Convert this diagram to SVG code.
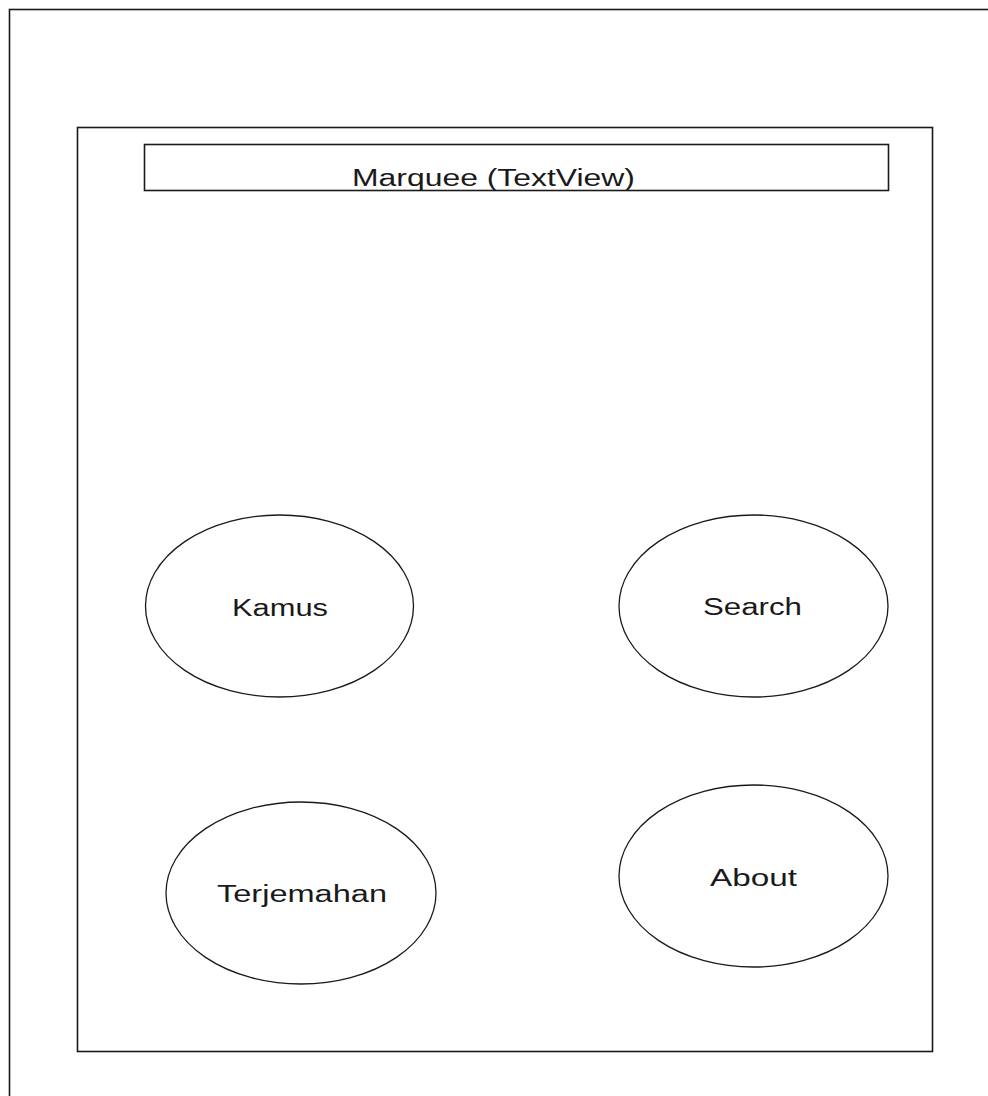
<svg xmlns="http://www.w3.org/2000/svg" width="988" height="1096" viewBox="0 0 988 1096">
<style>
.frame{fill:#fff;stroke:#1a1a1a;stroke-width:1.6}
.box{fill:none;stroke:#1a1a1a;stroke-width:1.6}
.oval{fill:#fff;stroke:#1a1a1a;stroke-width:1.3}
.lbl{font-family:"Liberation Sans",Arial,sans-serif;font-size:23px;fill:#1a1a1a}
</style>
<rect width="988" height="1096" fill="#fff"/>
<g id="screen">
<rect class="frame" x="9.5" y="9.5" width="1000" height="1100"/>
</g>
<g id="layout">
<rect class="box" x="77.5" y="127.5" width="855" height="924"/>
</g>
<g id="marquee">
<rect class="box" x="144.5" y="144.5" width="744" height="46"/>
<text class="lbl" x="352" y="185.5" textLength="283" lengthAdjust="spacingAndGlyphs">Marquee (TextView)</text>
</g>
<g id="kamus">
<ellipse class="oval" cx="279.5" cy="606" rx="134" ry="91"/>
<text class="lbl" x="232" y="615.5" textLength="96" lengthAdjust="spacingAndGlyphs">Kamus</text>
</g>
<g id="search">
<ellipse class="oval" cx="753.5" cy="606" rx="134.5" ry="91"/>
<text class="lbl" x="703" y="615" textLength="99" lengthAdjust="spacingAndGlyphs">Search</text>
</g>
<g id="terjemahan">
<ellipse class="oval" cx="301" cy="893" rx="135" ry="91"/>
<text class="lbl" x="217" y="901.5" textLength="170" lengthAdjust="spacingAndGlyphs">Terjemahan</text>
</g>
<g id="about">
<ellipse class="oval" cx="753.5" cy="876" rx="134.5" ry="91"/>
<text class="lbl" x="710" y="885.5" textLength="87" lengthAdjust="spacingAndGlyphs">About</text>
</g>
<g id="connectors"></g>
</svg>
